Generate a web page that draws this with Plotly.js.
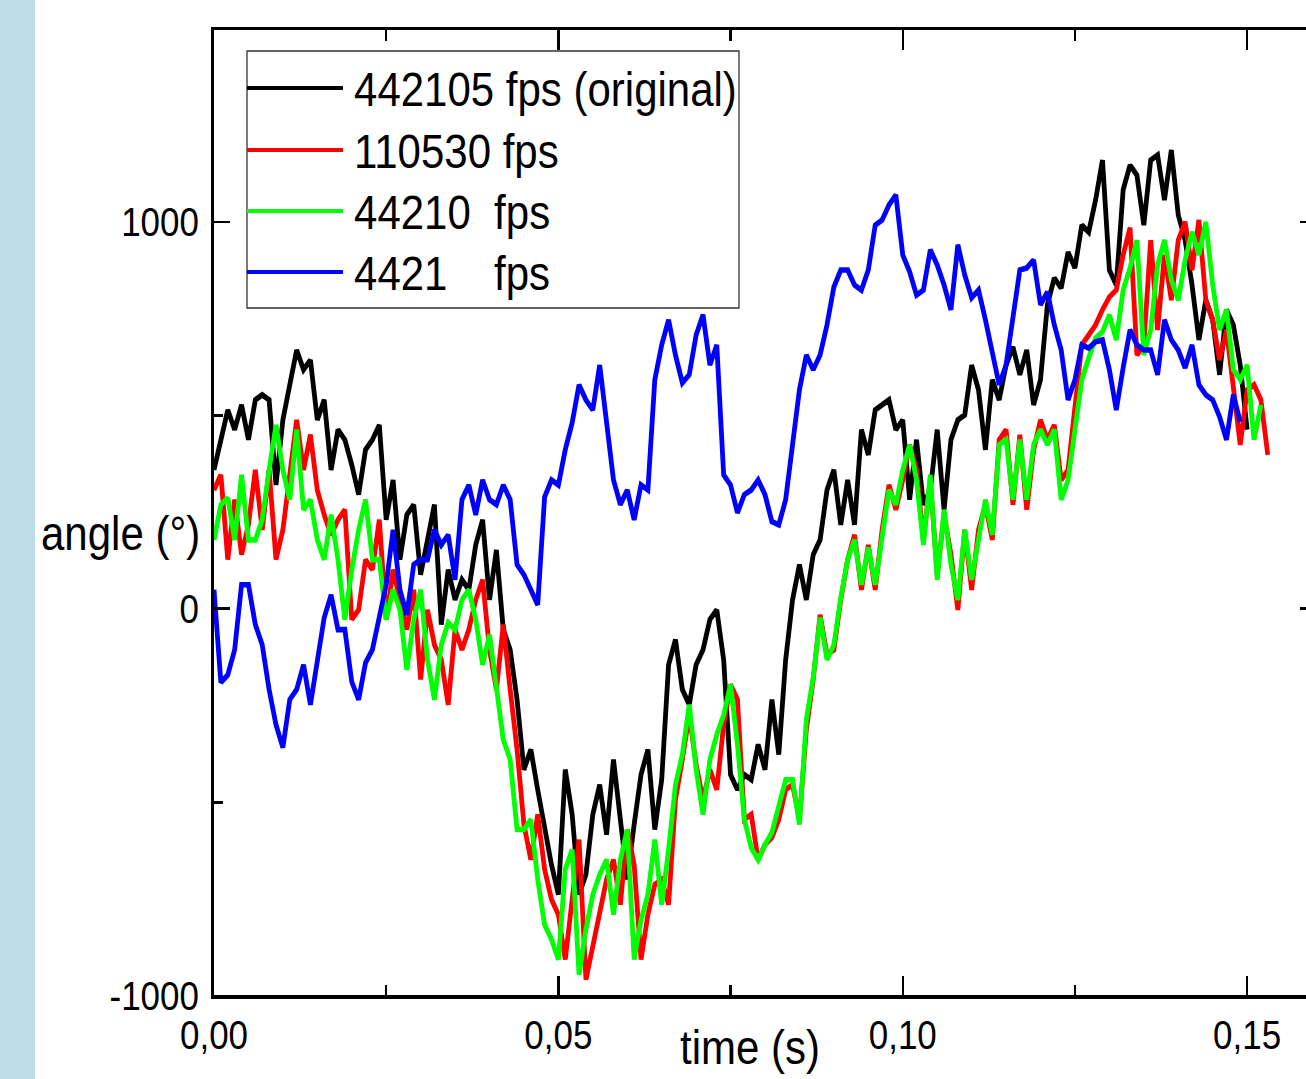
<!DOCTYPE html>
<html>
<head>
<meta charset="utf-8">
<script src="https://cdn.plot.ly/plotly-3.0.1.min.js"></script>
<style>
  html, body { margin: 0; padding: 0; background: #ffffff; overflow: hidden; width: 1306px; height: 1079px; }
  #strip { position: absolute; left: 0; top: 0; width: 35px; height: 1079px; background: #bfdde9; z-index: 10; }
  #wrap { position: absolute; left: 0; top: 0; width: 1330px; height: 930px; transform: scaleY(1.16022); transform-origin: 0 0; }
</style>
</head>
<body>
<div id="wrap"><div id="chart" style="width:1330px;height:930px;"></div></div>
<div id="strip"></div>
<script>
// ---- data (angle in degrees, sampled every dt seconds) ----
const dt = 0.001;
const seriesNames = ['442105 fps (original)', '110530 fps', '44210\u00a0\u00a0fps', '4421\u00a0\u00a0\u00a0\u00a0fps'];
const seriesColors = ['#000000', '#ff0000', '#00ff00', '#0000ff'];

const black442105 = [359,437,514,463,527,437,540,553,540,320,
  488,579,669,618,643,488,540,359,463,437,
  372,295,411,437,475,230,333,127,243,269,
  88,178,269,-41,101,23,75,49,165,230,
  23,152,-54,-106,-235,-416,-364,-468,-571,-662,
  -739,-416,-532,-739,-687,-532,-455,-584,-390,-545,
  -700,-558,-429,-364,-571,-442,-145,-80,-209,-248,
  -145,-106,-28,-3,-132,-429,-468,-429,-442,-351,
  -416,-235,-377,-132,23,114,23,140,178,307,
  359,217,333,217,463,398,514,527,540,463,
  488,282,437,269,307,463,256,437,488,501,
  630,566,411,592,540,630,677,605,669,527,
  592,786,855,829,922,881,992,974,1057,1160,
  876,837,1083,1147,1121,992,1160,1173,1057,1186,
  1018,953,837,695,798,747,605,773,734,630,
  463];

const red110530 = [307,346,127,282,140,217,359,204,359,127,
  204,359,488,359,450,307,243,191,230,256,
  -28,-3,127,101,230,-28,101,23,-54,49,
  -183,-3,-93,-132,-248,-54,-106,-54,23,75,
  -106,-209,-41,-209,-364,-558,-649,-532,-674,-752,
  -791,-907,-752,-597,-959,-868,-791,-700,-649,-765,
  -571,-662,-907,-791,-713,-700,-765,-494,-390,-274,
  -403,-494,-416,-468,-300,-196,-235,-545,-532,-649,
  -610,-592,-545,-468,-455,-545,-313,-183,-16,-119,
  -106,23,127,191,49,165,49,204,320,256,
  333,424,359,178,333,88,243,140,-3,204,
  49,204,269,178,437,463,269,450,256,411,
  488,437,475,333,359,514,682,708,734,773,
  806,824,915,985,656,682,953,721,915,798,
  953,1000,876,1005,798,747,643,721,579,424,
  566,579,540,398];

const green44210 = [178,269,287,178,346,178,178,230,359,475,
  359,282,463,256,282,178,127,243,127,-28,
  101,204,282,127,127,-28,49,-3,-158,-28,
  49,-132,-235,-93,-36,-54,23,49,-28,-145,
  -67,-209,-339,-390,-571,-571,-545,-700,-817,-855,
  -907,-674,-623,-946,-829,-739,-687,-649,-791,-649,
  -571,-907,-804,-739,-597,-765,-623,-455,-377,-248,
  -416,-532,-390,-326,-274,-196,-351,-545,-618,-649,
  -610,-579,-514,-442,-442,-558,-287,-178,-23,-132,
  -93,28,127,178,62,158,62,191,307,269,
  359,424,333,165,346,75,256,114,23,204,
  75,178,282,191,424,437,282,437,282,424,
  463,424,463,282,333,463,592,649,700,716,
  760,695,824,881,953,656,721,889,953,850,
  798,902,974,915,1000,837,721,773,618,592,
  630,437,527];

const blue4421 = [49,-191,-171,-106,62,62,-41,-93,-209,-300,
  -359,-235,-209,-145,-248,-132,-23,36,-54,-54,
  -189,-235,-140,-106,-16,62,204,49,-16,114,
  127,127,204,165,191,75,282,320,243,333,
  282,269,320,282,114,88,49,10,289,333,
  320,411,481,579,540,514,630,488,333,269,
  307,230,320,307,592,682,747,656,584,605,
  708,760,630,682,346,320,248,295,307,333,
  295,225,217,282,437,566,656,618,656,734,
  832,876,876,837,824,876,992,1005,1044,1070,
  915,871,811,824,928,889,837,773,941,863,
  804,824,747,669,579,630,747,876,881,902,
  786,819,734,669,540,592,682,674,690,695,
  618,514,623,721,682,669,669,605,747,695,
  669,623,682,579,553,540,496,437,553,483];

const seriesValues = [black442105, red110530, green44210, blue4421];

const xTickVals = [0, 0.05, 0.10, 0.15];
const xTickText = ['0,00', '0,05', '0,10', '0,15'];
const yTickVals = [-1000, 0, 1000];
const yTickText = ['-1000', '0', '1000'];
const xTitle = 'time (s)';
const yTitle = 'angle (°)';

// ---- geometry helpers (final-pixel -> paper, the wrap is stretched vertically) ----
const S = 1.16022;
const W = 1330, H = 930;
const M = {l: 214, r: 14, t: 26, b: 72};
const pw = W - M.l - M.r, ph = H - M.t - M.b;
const px2x = px => (px - M.l) / pw;
const py2y = py => (H - M.b - py / S) / ph;

const FONT = 'Liberation Sans, Arial, sans-serif';

const traces = seriesValues.map((vals, k) => ({
  type: 'scatter',
  mode: 'lines',
  name: seriesNames[k],
  x: vals.map((_, i) => i * dt),
  y: vals,
  line: {color: seriesColors[k], width: 4.8},
  showlegend: false,
  hoverinfo: 'skip'
}));

// manual legend
const legBox = {x0: 247, x1: 739, y0: 51, y1: 308};
const legRows = [88, 150, 211, 272];
const shapes = [{
  type: 'rect', xref: 'paper', yref: 'paper',
  x0: px2x(legBox.x0), x1: px2x(legBox.x1), y0: py2y(legBox.y1), y1: py2y(legBox.y0),
  line: {color: '#333333', width: 1.3}, fillcolor: 'rgba(255,255,255,1)', layer: 'below'
}];
const annotations = [];
seriesNames.forEach((nm, k) => {
  shapes.push({
    type: 'line', xref: 'paper', yref: 'paper',
    x0: px2x(247), x1: px2x(343), y0: py2y(legRows[k]), y1: py2y(legRows[k]),
    line: {color: seriesColors[k], width: 3.6}
  });
  annotations.push({
    xref: 'paper', yref: 'paper', x: px2x(352), y: py2y(legRows[k] + 1),
    xanchor: 'left', yanchor: 'middle', showarrow: false,
    text: nm, font: {family: FONT, size: 42, color: '#000'}
  });
});
annotations.push({
  xref: 'paper', yref: 'paper', x: px2x(202), y: py2y(533),
  xanchor: 'right', yanchor: 'middle', showarrow: false,
  text: yTitle, font: {family: FONT, size: 42, color: '#000'}
});
annotations.push({
  xref: 'paper', yref: 'paper', x: px2x(750), y: py2y(1018),
  xanchor: 'center', yanchor: 'top', showarrow: false,
  text: xTitle, font: {family: FONT, size: 42, color: '#000'}
});

const axisCommon = {
  showline: true, linewidth: 3, linecolor: '#000', mirror: 'ticks',
  ticks: 'inside', tickwidth: 2.5, tickcolor: '#000',
  showgrid: false, zeroline: false, tickmode: 'array',
  tickfont: {family: FONT, size: 35, color: '#000'}
};

const layout = {
  width: W, height: H,
  margin: M,
  paper_bgcolor: '#ffffff', plot_bgcolor: '#ffffff',
  showlegend: false, hovermode: false,
  xaxis: Object.assign({}, axisCommon, {
    range: [0, 0.16], tickvals: xTickVals, ticktext: xTickText, ticklen: 17,
    ticklabelstandoff: 1,
    minor: {ticks: 'inside', ticklen: 9, tickwidth: 2.5, tickcolor: '#000', dtick: 0.025, tick0: 0, showgrid: false}
  }),
  yaxis: Object.assign({}, axisCommon, {
    range: [-1000, 1496], tickvals: yTickVals, ticktext: yTickText, ticklen: 16,
    ticklabelstandoff: 5,
    minor: {ticks: 'inside', ticklen: 9, tickwidth: 2.5, tickcolor: '#000', dtick: 500, tick0: 0, showgrid: false}
  }),
  shapes: shapes,
  annotations: annotations
};

Plotly.newPlot('chart', traces, layout, {staticPlot: true, displayModeBar: false});
</script>
</body>
</html>
